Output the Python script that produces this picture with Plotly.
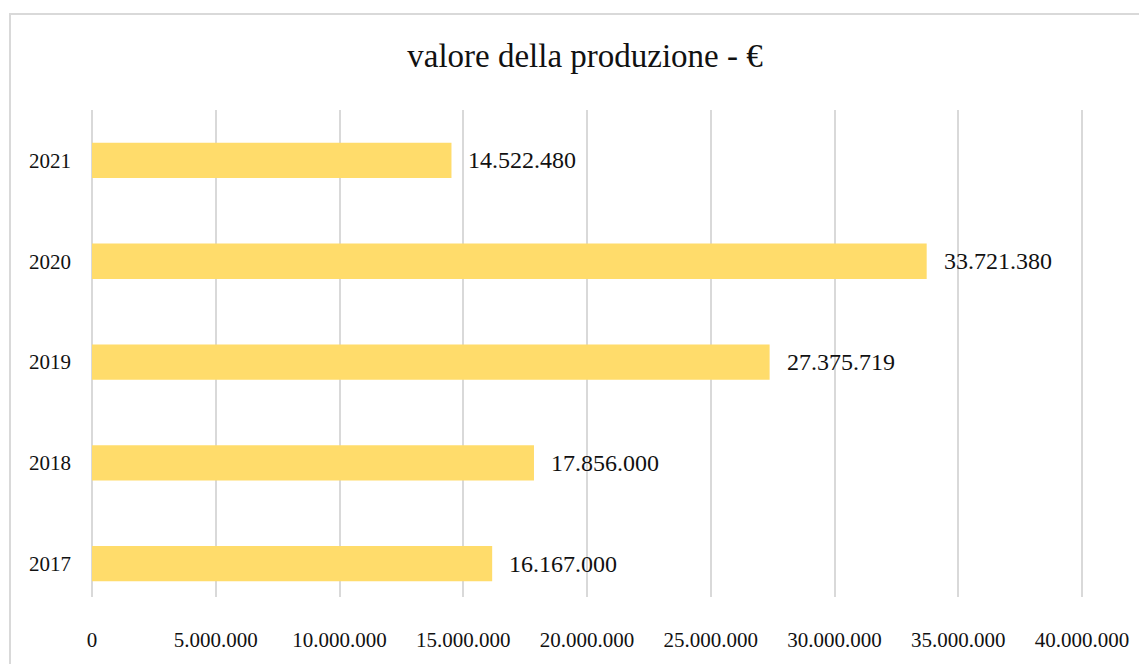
import plotly.graph_objects as go

years = ["2017", "2018", "2019", "2020", "2021"]
values = [16167000, 17856000, 27375719, 33721380, 14522480]
labels = ["16.167.000", "17.856.000", "27.375.719", "33.721.380", "14.522.480"]
x_ticks = [0, 5000000, 10000000, 15000000, 20000000, 25000000, 30000000, 35000000, 40000000]
x_tick_text = ["0", "5.000.000", "10.000.000", "15.000.000", "20.000.000",
               "25.000.000", "30.000.000", "35.000.000", "40.000.000"]

FONT = "Liberation Serif"
BAR = "#FFDC6B"
GRID = "#D9D9D9"

pos = list(range(len(years)))

fig = go.Figure()
fig.add_trace(go.Bar(
    y=pos, x=values, orientation="h",
    marker=dict(color=BAR, line=dict(width=0)),
    width=0.35, hoverinfo="skip",
))

for p, v, t in zip(pos, values, labels):
    fig.add_annotation(x=v, y=p, xref="x", yref="y", text=t, showarrow=False,
                       xanchor="left", yanchor="middle", xshift=15,
                       font=dict(family=FONT, size=24, color="#111111"))

OFF = 8  # page body margin
W, H = 1147, 664
EXT = 1.01  # extend range slightly so the 40M gridline is drawn
L, T, B = 92 - OFF, 110 - OFF, 664 - (597 - OFF)
R = W - L - 990 * EXT
pw, ph = W - L - R, H - T - B

fig.add_shape(type="rect", xref="paper", yref="paper",
              x0=(10 - OFF - L) / pw, x1=(W + 40 - L) / pw,
              y0=-(B + 40) / ph, y1=(H - B - (14 - OFF)) / ph,
              line=dict(color=GRID, width=2), fillcolor="rgba(0,0,0,0)", layer="below")

fig.update_layout(
    width=W, height=H,
    margin=dict(l=L, r=R, t=T, b=B, autoexpand=False),
    paper_bgcolor="white", plot_bgcolor="white",
    showlegend=False,
    title=dict(text="valore della produzione - €", x=(585 - OFF) / W, xanchor="center",
               y=1 - (55 - OFF) / H, yanchor="middle",
               font=dict(family=FONT, size=33, color="#111111")),
    xaxis=dict(range=[0, 40000000 * EXT], tickvals=x_ticks, ticktext=x_tick_text,
               showgrid=True, gridcolor=GRID, gridwidth=2,
               zeroline=True, zerolinecolor=GRID, zerolinewidth=2,
               showline=False, ticks="", ticklabelstandoff=28, automargin=False,
               tickfont=dict(family=FONT, size=21, color="#111111")),
    yaxis=dict(range=[-0.33, 4.5], tickvals=pos, ticktext=years,
               showgrid=False, zeroline=False, showline=False,
               ticks="", ticklabelstandoff=20, automargin=False,
               tickfont=dict(family=FONT, size=21, color="#111111")),
)

fig.write_html("out.html")
